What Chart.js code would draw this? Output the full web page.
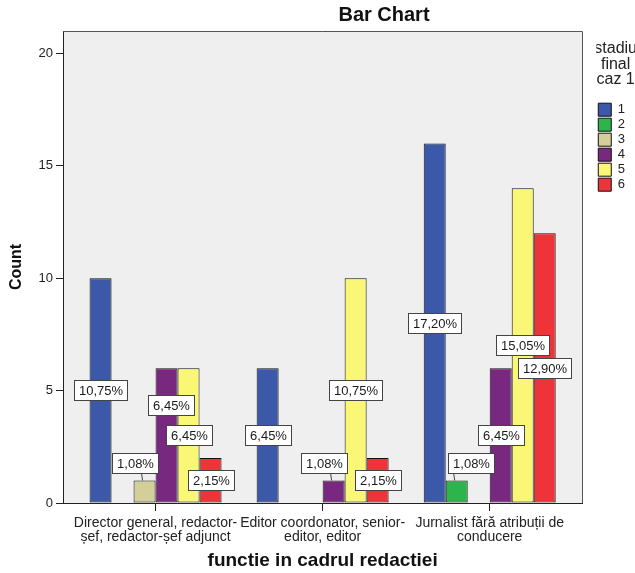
<!DOCTYPE html>
<html>
<head>
<meta charset="utf-8">
<script src="https://cdn.jsdelivr.net/npm/chart.js@4"></script>
<style>
  body { margin: 0; background: #fff; }
</style>
</head>
<body>
<canvas id="myChart" width="635" height="573"></canvas>
<script>
const chart = document.getElementById("myChart");
const functii = [
  ["Director general, redactor-", "șef, redactor-șef adjunct"],
  ["Editor coordonator, senior-", "editor, editor"],
  ["Jurnalist fără atribuții de", "conducere"],
];
const stadii = ["1", "2", "3", "4", "5", "6"];
const stadiu1 = [10, 6, 16];
const stadiu2 = [0, 0, 1];
const stadiu3 = [1, 0, 0];
const stadiu4 = [6, 1, 6];
const stadiu5 = [6, 10, 14];
const stadiu6 = [2, 2, 12];
const yTicks = [0, 5, 10, 15, 20];
const culori = ["#3c58a8", "#2db44a", "#d4cf98", "#78287e", "#faf776", "#ef3439"];

const serii = [stadiu1, stadiu2, stadiu3, stadiu4, stadiu5, stadiu6];
var total = 0;
serii.forEach((s) => s.forEach((v) => (total += v)));

const FONT = "'Liberation Sans', Arial, sans-serif";
Chart.defaults.font.family = FONT;
Chart.defaults.color = "#222";

// gray plot area + top/right frame
const plotFrame = {
  id: "plotFrame",
  beforeDraw(c) {
    const a = c.chartArea;
    const ctx = c.ctx;
    ctx.save();
    ctx.fillStyle = "#efefef";
    ctx.fillRect(a.left, a.top, a.right - a.left, a.bottom - a.top);
    ctx.restore();
  },
  beforeDatasetsDraw(c) {
    const a = c.chartArea;
    const ctx = c.ctx;
    ctx.save();
    ctx.strokeStyle = "#555";
    ctx.lineWidth = 1;
    ctx.beginPath();
    ctx.moveTo(Math.round(a.left), Math.round(a.top) + 0.5);
    ctx.lineTo(Math.round(a.right) + 0.5, Math.round(a.top) + 0.5);
    ctx.lineTo(Math.round(a.right) + 0.5, Math.round(a.bottom));
    ctx.stroke();
    ctx.restore();
  },
};

const chartTitle = {
  id: "chartTitle",
  afterDraw(c) {
    const ctx = c.ctx;
    ctx.save();
    ctx.font = "bold 20px " + FONT;
    ctx.fillStyle = "#111";
    ctx.textAlign = "center";
    ctx.textBaseline = "middle";
    ctx.fillText("Bar Chart", 384, 15);
    ctx.restore();
  },
};

// percentage labels (white boxes), SPSS style
const pctLabels = {
  id: "pctLabels",
  afterDatasetsDraw(c) {
    const ctx = c.ctx;
    ctx.save();
    ctx.font = "13px " + FONT;
    const h = 20;
    const metas = c.data.datasets.map((d, i) => c.getDatasetMeta(i));
    functii.forEach((f, i) => {
      const items = [];
      metas.forEach((m, d) => {
        const v = serii[d][i];
        if (!v) return;
        const bar = m.data[i];
        const text = ((v / total) * 100).toFixed(2).replace(".", ",") + "%";
        const w = ctx.measureText(text).width + 9;
        let cx = bar.x;
        let cy = (bar.y + bar.base) / 2;
        let above = bar.base - bar.y < h + 4;
        if (above) {
          cy = bar.y - 18;
          const bot = cy + h / 2;
          const ln = d > 0 ? metas[d - 1].data[i] : null;
          const rn = d < metas.length - 1 ? metas[d + 1].data[i] : null;
          if (rn && serii[d + 1][i] && rn.y < bot) cx = Math.min(cx, rn.x - rn.width / 2 + 2 - w / 2);
          if (ln && serii[d - 1][i] && ln.y < bot) cx = Math.max(cx, ln.x + ln.width / 2 + 2 + w / 2);
        }
        items.push({ text, w, cx, cy, above, bar });
      });
      const placed = [];
      for (let k = items.length - 1; k >= 0; k--) {
        const it = items[k];
        placed.forEach((p) => {
          const ox = Math.abs(it.cx - p.cx) < (it.w + p.w) / 2;
          const oy = Math.abs(it.cy - p.cy) < h;
          if (ox && oy) {
            it.cy = p.cy - h - 10;
            it.cx += 4;
          }
        });
        placed.push(it);
      }
      items.forEach((it) => {
        const x0 = Math.round(it.cx - it.w / 2) + 0.5;
        const y0 = Math.round(it.cy - h / 2) + 0.5;
        if (it.above) {
          ctx.strokeStyle = "#444";
          ctx.lineWidth = 1;
          ctx.beginPath();
          const lx = Math.min(Math.max(it.bar.x - 3, x0 + 4), x0 + it.w - 4);
          ctx.moveTo(lx, y0 + h);
          ctx.lineTo(it.bar.x - 2, it.bar.y);
          ctx.stroke();
        }
        ctx.fillStyle = "#fff";
        ctx.fillRect(x0, y0, Math.round(it.w), h);
        ctx.strokeStyle = "#444";
        ctx.lineWidth = 1;
        ctx.strokeRect(x0, y0, Math.round(it.w), h);
        ctx.fillStyle = "#1a1a1a";
        ctx.textAlign = "center";
        ctx.textBaseline = "middle";
        ctx.fillText(it.text, x0 + Math.round(it.w) / 2, y0 + h / 2 + 1);
      });
    });
    ctx.restore();
  },
};

new Chart(chart, {
  type: "bar",
  data: {
    datasets: serii.map((s, d) => ({
      label: stadii[d],
      data: s.map((v, i) => ({ x: i, y: v || null })),
      backgroundColor: culori[d],
      borderColor: "#111",
      borderWidth: 1,
      borderSkipped: false,
      categoryPercentage: 0.79,
      barPercentage: 1,
    })),
  },
  plugins: [plotFrame, chartTitle, pctLabels],
  options: {
    responsive: false,
    animation: false,
    devicePixelRatio: 1,
    layout: { padding: { top: 31, left: 0, right: 0, bottom: 0 } },
    scales: {
      x: {
        type: "linear",
        offset: false,
        min: -0.554,
        max: 2.554,
        afterBuildTicks: (s) => {
          s.ticks = functii.map((f, i) => ({ value: i }));
        },
        afterFit: (s) => {
          s.height = 70;
        },
        ticks: {
          callback: (v) => functii[v],
          autoSkip: false,
          maxRotation: 0,
          minRotation: 0,
          padding: 5,
          font: { size: 14, lineHeight: 1 },
          color: "#222",
        },
        grid: { offset: false, drawOnChartArea: false, tickLength: 8, color: "#222" },
        border: { display: true, color: "#222" },
        title: {
          display: true,
          text: "functie in cadrul redactiei",
          font: { size: 19, weight: "bold" },
          color: "#111",
          padding: { top: 0, bottom: 1 },
        },
      },
      y: {
        min: 0,
        max: 21,
        afterBuildTicks: (s) => {
          s.ticks = yTicks.map((v) => ({ value: v }));
        },
        afterFit: (s) => {
          s.width = 63;
        },
        ticks: { padding: 3, font: { size: 13 }, color: "#222" },
        grid: { drawOnChartArea: false, tickLength: 7, color: "#222" },
        border: { display: true, color: "#222" },
        title: {
          display: true,
          text: "Count",
          font: { size: 16, weight: "bold" },
          color: "#111",
          padding: { top: 7, bottom: 0 },
        },
      },
      gap: {
        type: "linear",
        position: "right",
        display: true,
        afterFit: (s) => {
          s.width = 14;
        },
        ticks: { display: false },
        grid: { display: false },
        border: { display: false },
      },
    },
    plugins: {
      title: { display: false },
      tooltip: { enabled: false },
      legend: {
        position: "right",
        align: "start",
        title: {
          display: true,
          text: ["stadiu", "final", "caz 1"],
          font: { size: 16, lineHeight: 0.95 },
          color: "#222",
          padding: { top: 10, bottom: 45 },
        },
        labels: {
          boxWidth: 13,
          boxHeight: 13,
          padding: 2,
          font: { size: 13 },
          color: "#222",
        },
      },
    },
  },
});
</script>
</body>
</html>
